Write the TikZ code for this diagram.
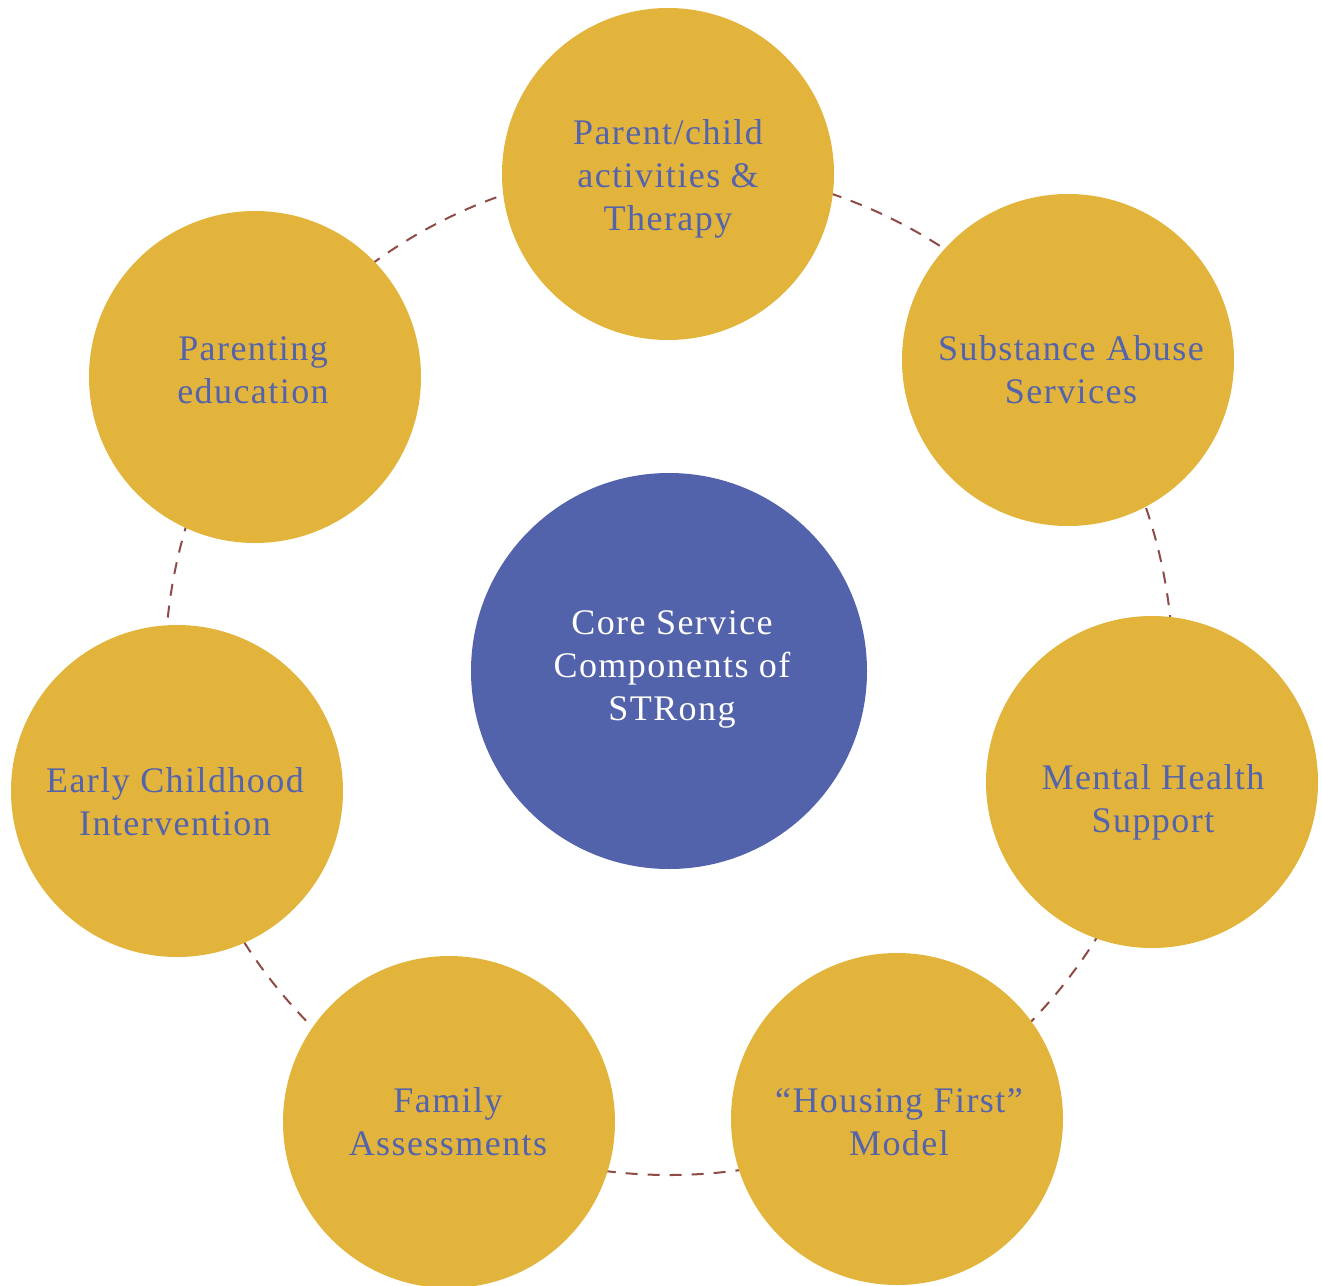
\documentclass[tikz,border=0pt]{standalone}
\usepackage{fontspec}
\setmainfont{Liberation Serif}[LetterSpace=4]
\definecolor{gold}{HTML}{E3B43B}
\definecolor{core}{HTML}{5262AB}
\definecolor{ink}{HTML}{5363AC}
\definecolor{ring}{HTML}{8E4B45}
\begin{document}
\begin{tikzpicture}[x=0.5pt,y=-0.5pt,
  sat/.style={circle,fill=gold,draw=none,minimum size=166pt,inner sep=0pt},
  hub/.style={circle,fill=core,draw=none,minimum size=198pt,inner sep=0pt},
  lbl/.style={align=center,text=ink,font=\fontsize{18pt}{21.5pt}\selectfont},
  hublbl/.style={align=center,text=white,font=\fontsize{18pt}{21.5pt}\selectfont},
  ringline/.style={draw=ring,line width=1pt,dash pattern=on 6pt off 5pt}]
\useasboundingbox (0,0) rectangle (1322,1285);
\coordinate (c) at (669,671);
\draw[ringline] (c) circle[radius=252pt];
\node[sat] (s1) at (668,174) {};
\node[sat] (s2) at (1068,360) {};
\node[sat] (s3) at (1152,782) {};
\node[sat] (s4) at (897,1119) {};
\node[sat] (s5) at (449,1122) {};
\node[sat] (s6) at (177,791) {};
\node[sat] (s7) at (255,377) {};
\node[hub] (h) at (669,671) {};
\node[lbl] (t1) at (668,179) {Parent/child\\activities \&\\Therapy};
\node[lbl] (t2) at (1071,370) {Substance Abuse\\Services};
\node[lbl] (t3) at (1153,802) {Mental Health\\Support};
\node[lbl] (t4) at (899,1122) {“Housing First”\\Model};
\node[lbl] (t5) at (448,1122) {Family\\Assessments};
\node[lbl] (t6) at (175,802) {Early Childhood\\Intervention};
\node[lbl] (t7) at (253,370) {Parenting\\education};
\node[hublbl] (th) at (672,669) {Core Service\\Components of\\STRong};
\end{tikzpicture}
\end{document}
